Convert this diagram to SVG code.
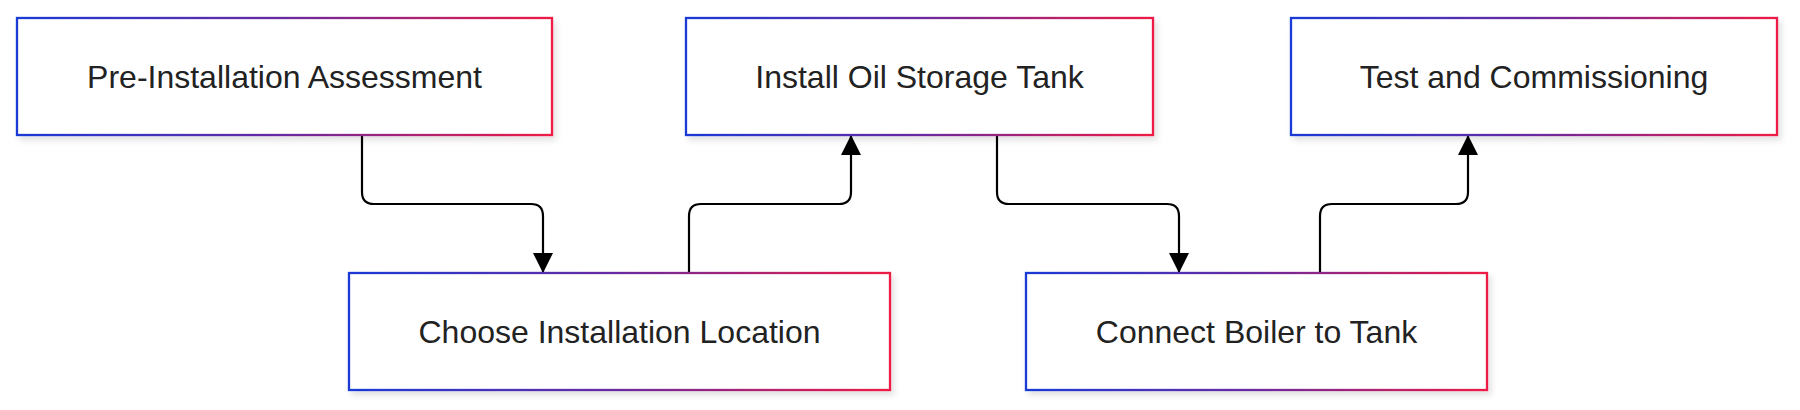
<svg xmlns="http://www.w3.org/2000/svg" width="1800" height="410" viewBox="0 0 1800 410">
<style>
.n{fill:#fff;stroke:url(#g);stroke-width:2.3;filter:url(#sh)}
.t{font-family:"Liberation Sans",Arial,sans-serif;font-size:32px;fill:#222;text-anchor:middle;dominant-baseline:central}
.c{fill:none;stroke:#000;stroke-width:2.2}
</style>
<defs>
<linearGradient id="g" x1="0" y1="0" x2="1" y2="0"><stop offset="0" stop-color="#1a3ad6"/><stop offset="0.5" stop-color="#6a2aa0"/><stop offset="1" stop-color="#ee1a44"/></linearGradient>
<filter id="sh" x="-5%" y="-10%" width="110%" height="130%"><feDropShadow dx="3" dy="4" stdDeviation="3" flood-color="#000" flood-opacity="0.12"/></filter>
<marker id="m" viewBox="0 0 10 10" refX="10" refY="5" markerWidth="20" markerHeight="20" markerUnits="userSpaceOnUse" orient="auto"><path d="M0,0L10,5L0,10z" fill="#000"/></marker>
</defs>
<g id="connectors">
<path class="c" marker-end="url(#m)" d="M362,135V192Q362,204 374,204H531Q543,204 543,216V273"/>
<path class="c" marker-end="url(#m)" d="M689,273V216Q689,204 701,204H839Q851,204 851,192V135"/>
<path class="c" marker-end="url(#m)" d="M997,135V192Q997,204 1009,204H1167Q1179,204 1179,216V273"/>
<path class="c" marker-end="url(#m)" d="M1320,273V216Q1320,204 1332,204H1456Q1468,204 1468,192V135"/>
</g>
<g id="n1"><rect class="n" x="17" y="18" width="535" height="117"/><text class="t" x="284.5" y="77">Pre-Installation Assessment</text></g>
<g id="n2"><rect class="n" x="349" y="273" width="541" height="117"/><text class="t" x="619.5" y="332">Choose Installation Location</text></g>
<g id="n3"><rect class="n" x="686" y="18" width="467" height="117"/><text class="t" x="919.5" y="77">Install Oil Storage Tank</text></g>
<g id="n4"><rect class="n" x="1026" y="273" width="461" height="117"/><text class="t" x="1256.5" y="332">Connect Boiler to Tank</text></g>
<g id="n5"><rect class="n" x="1291" y="18" width="486" height="117"/><text class="t" x="1534" y="77">Test and Commissioning</text></g>
</svg>
